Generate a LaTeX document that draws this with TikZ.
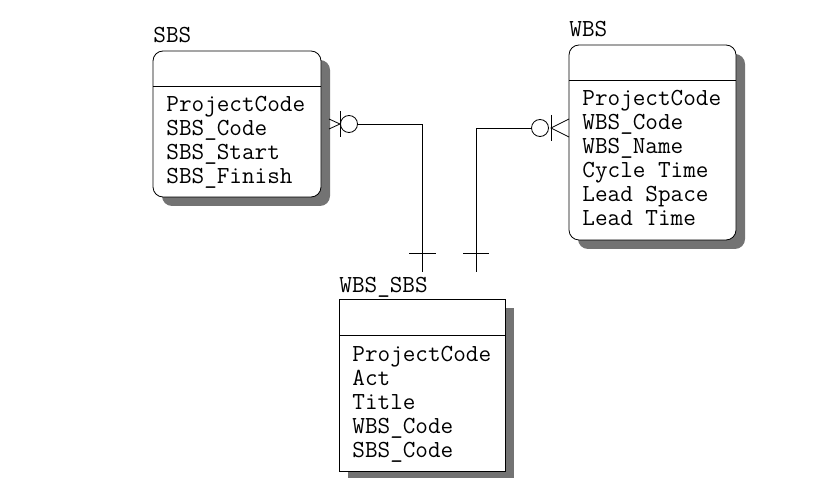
\documentclass[tikz,border=0pt]{standalone}
\usetikzlibrary{shadows}
\newcommand\erfont{\fontsize{24.5}{24}\selectfont\ttfamily}
\tikzset{
  entity/.style={draw,fill=white,outer sep=0pt,inner sep=0pt,anchor=north west,
    drop shadow={shadow xshift=9pt,shadow yshift=-9pt,fill=black!55,opacity=1}},
  title/.style={anchor=base west,inner sep=0pt,font=\erfont},
  attr/.style={anchor=base west,inner sep=0pt,font=\erfont}
}
\begin{document}
\begin{tikzpicture}[x=1pt,y=-1pt,line width=.8pt]
\useasboundingbox (0,0) rectangle (835,478);
% the three entities, each with an empty key part on top
\node[entity,rounded corners=10pt,minimum width=168pt,minimum height=146pt] (sbs) at (153,51) {};
\node[entity,rounded corners=10pt,minimum width=167pt,minimum height=195pt] (wbs) at (569,45) {};
\node[entity,minimum width=166pt,minimum height=172pt] (wbssbs) at (339,299) {};
\draw ([yshift=-35pt]sbs.north west) -- ([yshift=-35pt]sbs.north east);
\draw ([yshift=-35pt]wbs.north west) -- ([yshift=-35pt]wbs.north east);
\draw ([yshift=-36pt]wbssbs.north west) -- ([yshift=-36pt]wbssbs.north east);
\node[title] (sbsT) at (153,43) {SBS};
\node[title] (wbsT) at (569,37) {WBS};
\node[title] (wbssbsT) at (339,292) {WBS\_SBS};
\foreach \t [count=\i] in {ProjectCode,SBS\_Code,SBS\_Start,SBS\_Finish}
  \node[attr] (sbs-\i) at (166,88+24*\i) {\t};
\foreach \t [count=\i] in {ProjectCode,WBS\_Code,WBS\_Name,Cycle Time,Lead Space,Lead Time}
  \node[attr] (wbs-\i) at (582,82+24*\i) {\t};
\foreach \t [count=\i] in {ProjectCode,Act,Title,WBS\_Code,SBS\_Code}
  \node[attr] (wbssbs-\i) at (352,337+24*\i) {\t};
% SBS -- WBS_SBS: crow's foot, bar and ring at SBS, single bar below
\coordinate (sbsFoot) at ([xshift=19pt]sbs.east);
\coordinate (sbsEnd) at (422,272);
\draw ([shift={(8pt,5pt)}]sbs.east) -- (sbsFoot) -- ([shift={(8pt,-5pt)}]sbs.east);
\draw ([yshift=13pt]sbsFoot) -- ([yshift=-13pt]sbsFoot);
\draw ([xshift=9pt]sbsFoot) circle (8.5pt);
\draw ([xshift=17.5pt]sbsFoot) -| (sbsEnd);
\draw ([shift={(-13pt,19pt)}]sbsEnd) -- ([shift={(14pt,19pt)}]sbsEnd);
% WBS -- WBS_SBS
\coordinate (wbsFoot) at ([shift={(-18pt,14.5pt)}]wbs.west);
\coordinate (wbsEnd) at (476,272);
\draw ([yshift=9pt]wbsFoot -| wbs.west) -- (wbsFoot) -- ([yshift=-9pt]wbsFoot -| wbs.west);
\draw ([yshift=13pt]wbsFoot) -- ([yshift=-13pt]wbsFoot);
\draw ([xshift=-11pt]wbsFoot) circle (8.5pt);
\draw ([xshift=-19.5pt]wbsFoot) -| (wbsEnd);
\draw ([shift={(-13pt,19pt)}]wbsEnd) -- ([shift={(13pt,19pt)}]wbsEnd);
\end{tikzpicture}
\end{document}
